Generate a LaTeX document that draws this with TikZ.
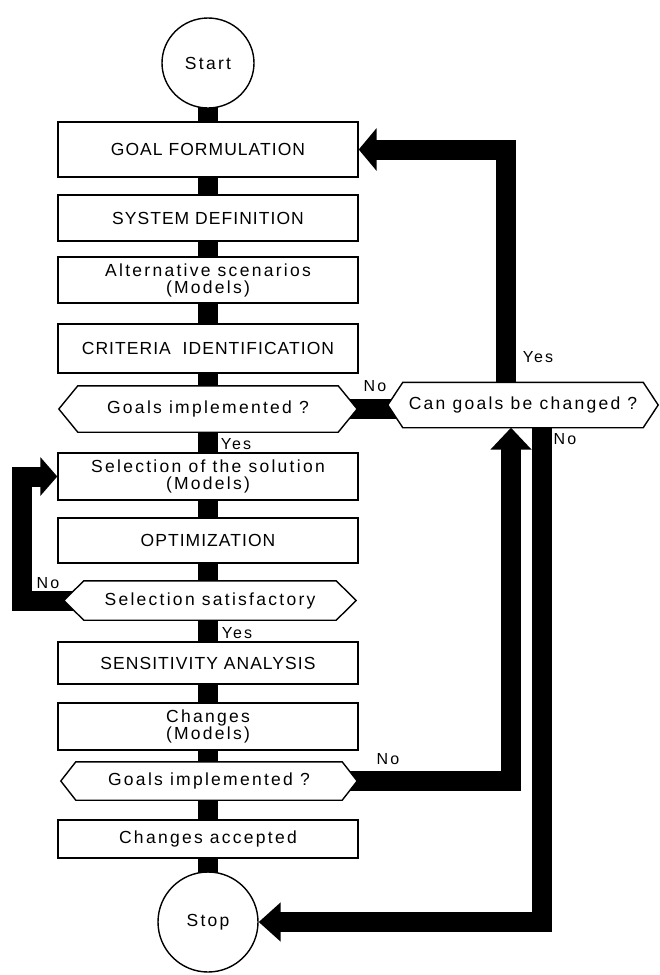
\documentclass[tikz,border=0pt]{standalone}
\usepackage{fontspec}
\setmainfont{Liberation Sans}
\newfontfamily\lcfont[LetterSpace=13]{Liberation Sans}
\newfontfamily\ucfont[LetterSpace=6]{Liberation Sans}
\usetikzlibrary{shapes.geometric,arrows.meta}
\pgfdeclarelayer{bg}
\pgfdeclarelayer{mid}
\pgfsetlayers{bg,mid,main}
\newcommand\hexpath[2]{%
  \begin{pgfonlayer}{mid}
  \draw[line width=1.4pt, fill=white, line join=miter]
    ([xshift=#2]#1.north west) -- ([xshift=-#2]#1.north east) -- (#1.east)
    -- ([xshift=-#2]#1.south east) -- ([xshift=#2]#1.south west) -- (#1.west) -- cycle;
  \end{pgfonlayer}}
\begin{document}
\begin{tikzpicture}[x=1pt,y=-1pt,
  lctext/.style={font=\lcfont\fontsize{17.5}{17}\selectfont},
  uctext/.style={font=\ucfont\fontsize{17.5}{17}\selectfont},
  box/.style={draw, fill=white, line width=1.4pt, minimum width=300pt,
              inner sep=0pt, align=center, lctext},
  capbox/.style={box, uctext},
  term/.style={ellipse, draw, fill=white, line width=1.4pt, inner sep=0pt, lctext},
  dec/.style={inner sep=0pt, align=center, lctext},
  lab/.style={inner sep=0pt, font=\lcfont\fontsize{16}{16}\selectfont},
  spine/.style={line width=20pt},
  flow/.style={line width=20pt, line join=miter}]
\useasboundingbox (0,0) rectangle (659,975);

% main column
\node[term, minimum width=92pt, minimum height=90pt] (start) at (208,63) {Start};
\node[capbox, minimum height=55pt] (goal) at (208,149.5) {GOAL FORMULATION};
\node[capbox, minimum height=46pt] (sysdef) at (208,218) {SYSTEM DEFINITION};
\node[box, minimum height=46pt] (alt) at (208,280) {Alternative scenarios\\(Models)};
\node[capbox, minimum height=49pt] (crit) at (208,348.5) {CRITERIA\ \ IDENTIFICATION};
\node[dec, minimum width=298pt, minimum height=46pt] (dec1) at (208,409) {Goals implemented ?};
\node[box, minimum height=47pt] (sel) at (208,476.5) {Selection of the solution\\(Models)};
\node[capbox, minimum height=45pt] (opt) at (208,540.5) {OPTIMIZATION};
\node[dec, minimum width=292pt, minimum height=39pt] (dec2) at (210,600.5) {Selection satisfactory};
\node[capbox, minimum height=42pt] (sens) at (208,663) {SENSITIVITY ANALYSIS};
\node[box, minimum height=47pt] (chg) at (208,726.5) {Changes\\(Models)};
\node[dec, minimum width=296pt, minimum height=38pt] (dec3) at (209,781) {Goals implemented ?};
\node[box, minimum height=38pt] (acc) at (208,839) {Changes accepted};
\node[term, minimum width=100pt, minimum height=100pt] (stop) at (208,922) {Stop};

% side decision
\node[dec, minimum width=270pt, minimum height=45pt] (dec4) at (523,405) {Can goals be changed ?};

\hexpath{dec1}{19pt}
\hexpath{dec2}{20pt}
\hexpath{dec3}{15pt}
\hexpath{dec4}{15pt}

% bend coordinates
\coordinate (yesx) at (506,0);
\coordinate (upx) at (511,0);
\coordinate (downx) at (542,0);
\coordinate (loopx) at (22,0);

% connectors
\begin{pgfonlayer}{bg}
\draw[spine] (start.center) -- (goal.center);
\draw[spine] (goal.center) -- (sysdef.center);
\draw[spine] (sysdef.center) -- (alt.center);
\draw[spine] (alt.center) -- (crit.center);
\draw[spine] (crit.center) -- (dec1.center -| crit.center);
\draw[spine] (dec1.center -| sel.center) -- (sel.center);
\draw[spine] (sel.center) -- (opt.center);
\draw[spine] (opt.center) -- (dec2.center -| opt.center);
\draw[spine] (dec2.center -| sens.center) -- (sens.center);
\draw[spine] (sens.center) -- (chg.center);
\draw[spine] (chg.center) -- (dec3.center -| chg.center);
\draw[spine] (dec3.center -| acc.center) -- (acc.center);
\draw[spine] (acc.center) -- (stop.center);
\draw[spine] (dec1.center) -- (dec1.center -| dec4.center);
\draw[flow, -{Triangle[length=18pt,width=42pt]}] (dec4.center -| yesx) |- (goal.east);
\draw[flow, -{Triangle[length=22pt,width=40pt]}] (dec3.center) -| (dec4.south -| upx);
\draw[flow, -{Triangle[length=22pt,width=38pt]}] (dec4.center -| downx) |- (stop.east);
\draw[flow, -{Triangle[length=17pt,width=38pt]}] (dec2.center) -| (loopx |- sel.west) -- (sel.west);
\end{pgfonlayer}

% labels
\node[lab] (noA) at (375,386) {No};
\node[lab] (yesA) at (538,357) {Yes};
\node[lab] (noB) at (565,439) {No};
\node[lab] (yesB) at (236,444) {Yes};
\node[lab] (noC) at (48,583) {No};
\node[lab] (yesC) at (237,633) {Yes};
\node[lab] (noD) at (388,759) {No};
\end{tikzpicture}
\end{document}
